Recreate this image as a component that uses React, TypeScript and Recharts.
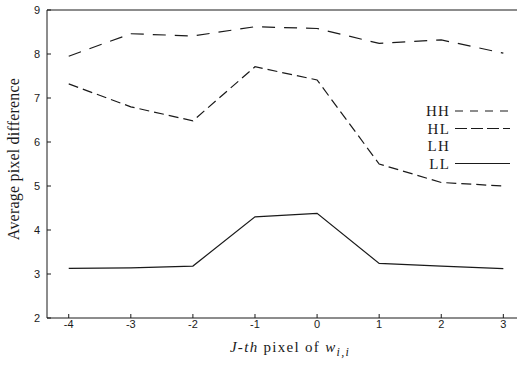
import React from "react";
import { LineChart, Line, XAxis, YAxis, ReferenceLine, Label } from "recharts";

const positions = [-4, -3, -2, -1, 0, 1, 2, 3];
const hhValues = [7.95, 8.46, 8.41, 8.62, 8.58, 8.24, 8.32, 8.02];
const hlValues = [7.32, 6.8, 6.48, 7.71, 7.41, 5.5, 5.08, 5.0];
const llValues = [3.13, 3.14, 3.18, 4.3, 4.38, 3.24, 3.18, 3.12];
const yTicks = [2, 3, 4, 5, 6, 7, 8, 9];
const legendLabels = ["HH", "HL", "LH", "LL"];

const data = positions.map((p, i) => ({ x: p, HH: hhValues[i], HL: hlValues[i], LL: llValues[i] }));

const INK = "#1a1a1a";
const SANS = "'Liberation Sans', Arial, sans-serif";
const SERIF = "'Liberation Serif', 'Times New Roman', serif";

const legendDash: Record<string, string | null> = {
  HH: "8 7",
  HL: "12 4",
  LH: null,
  LL: "0",
};

const YTick = (props: any) => {
  const { x, y, payload } = props;
  return (
    <g>
      <line x1={x + 6} x2={x + 10} y1={y} y2={y} stroke={INK} strokeWidth={1} />
      <text x={x - 1} y={y} dy={4} textAnchor="end" fontFamily={SANS} fontSize={11} fill={INK}>
        {payload.value}
      </text>
    </g>
  );
};

const XTick = (props: any) => {
  const { x, y, payload } = props;
  return (
    <g>
      <line x1={x} x2={x} y1={y - 6} y2={y - 10} stroke={INK} strokeWidth={1} />
      <text x={x} y={y + 4} textAnchor="middle" fontFamily={SANS} fontSize={11} fill={INK}>
        {payload.value}
      </text>
    </g>
  );
};

const XLabel = (props: any) => {
  const { viewBox } = props;
  const cx = viewBox.x + viewBox.width / 2 + 8;
  const y = viewBox.y + viewBox.height + 4;
  return (
    <text x={cx} y={y} textAnchor="middle" fontFamily={SERIF} fontSize={15} letterSpacing={1.3} fill={INK}>
      <tspan fontStyle="italic">J-th</tspan>
      <tspan> pixel of </tspan>
      <tspan fontStyle="italic">w</tspan>
      <tspan fontStyle="italic" fontSize={12} dy={4}>i,i</tspan>
    </text>
  );
};

const YLabel = (props: any) => {
  const { viewBox } = props;
  const cx = 19;
  const cy = viewBox.y + viewBox.height / 2 - 5;
  return (
    <text
      x={cx}
      y={cy}
      transform={`rotate(-90 ${cx} ${cy})`}
      textAnchor="middle"
      fontFamily={SERIF}
      fontSize={16}
      letterSpacing={0.2}
      fill={INK}
    >
      Average pixel difference
    </text>
  );
};

const LegendBox = () => (
  <svg width={100} height={80} style={{ position: "absolute", left: 419, top: 101 }}>
    {legendLabels.map((lab, i) => {
      const y = 10 + i * 17.5;
      const dash = legendDash[lab];
      return (
        <g key={lab}>
          <text x={31} y={y + 5} textAnchor="end" fontFamily={SERIF} fontSize={15} letterSpacing={1.2} fill={INK}>
            {lab}
          </text>
          {dash !== null && (
            <line x1={36} x2={91} y1={y} y2={y} stroke={INK} strokeWidth={1.2} strokeDasharray={dash} />
          )}
        </g>
      );
    })}
  </svg>
);

export default function App() {
  return (
    <div style={{ position: "absolute", left: 0, top: 0, width: 523, height: 374, background: "#fff" }}>
      <LineChart width={523} height={374} data={data} margin={{ top: 10, right: 6, bottom: 26, left: 7 }}>
        <XAxis
          dataKey="x"
          type="number"
          domain={[-4.35, 3.22]}
          ticks={positions}
          allowDataOverflow
          stroke={INK}
          tickLine={false}
          tickSize={0}
          tickMargin={6}
          height={30}
          tick={<XTick />}
        >
          <Label content={<XLabel />} />
        </XAxis>
        <YAxis
          type="number"
          domain={[2, 9]}
          ticks={yTicks}
          stroke={INK}
          tickLine={false}
          tickSize={0}
          tickMargin={6}
          width={40}
          tick={<YTick />}
        >
          <Label content={<YLabel />} />
        </YAxis>
        <ReferenceLine y={9} stroke={INK} strokeWidth={1} ifOverflow="visible" />
        <Line dataKey="HH" stroke={INK} strokeWidth={1.2} strokeDasharray="13 9" dot={false} isAnimationActive={false} />
        <Line dataKey="HL" stroke={INK} strokeWidth={1.2} strokeDasharray="10 5" dot={false} isAnimationActive={false} />
        <Line dataKey="LL" stroke={INK} strokeWidth={1.2} dot={false} isAnimationActive={false} />
      </LineChart>
      <LegendBox />
    </div>
  );
}
